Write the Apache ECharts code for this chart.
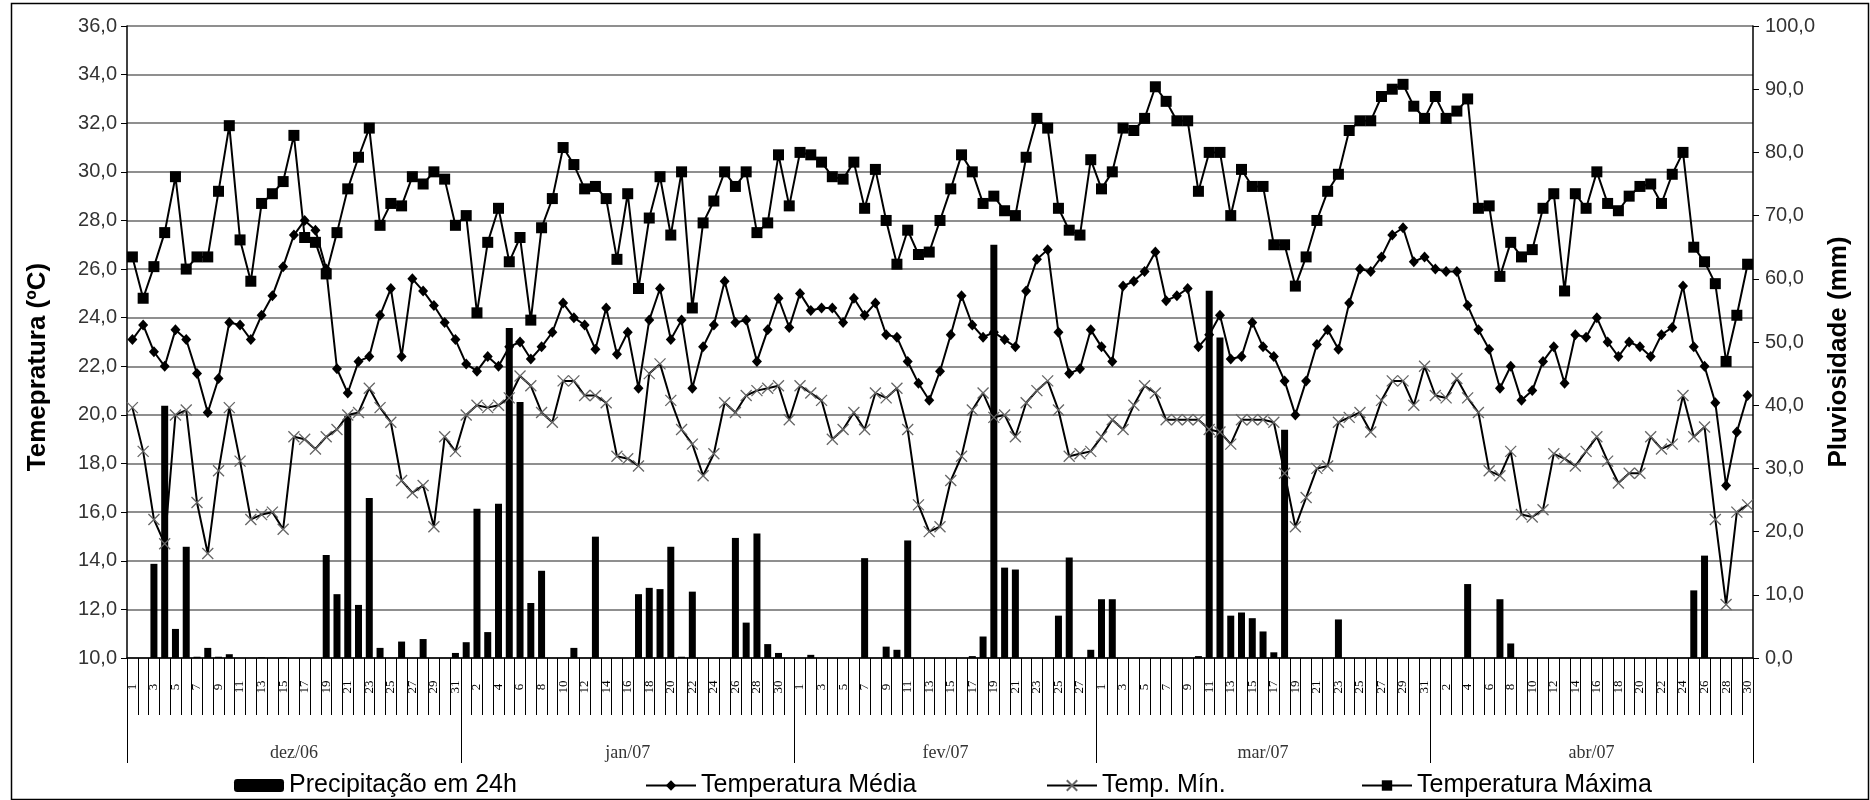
<!DOCTYPE html>
<html><head><meta charset="utf-8">
<script src="https://cdn.jsdelivr.net/npm/echarts@6/dist/echarts.min.js"></script>
<style>html,body{margin:0;padding:0;background:#fff}#c{width:1870px;height:800px}</style>
</head><body><div id="c"></div><script>
// ---- data ----
const monthNames = ['dez/06','jan/07','fev/07','mar/07','abr/07'];
const monthDays = [31, 31, 28, 31, 30];

// Precipitação em 24h (mm) – right axis
const precip = [
  0,0,14.9,39.9,4.6,17.6,0.2,1.6,0.2,0.6,0,0,0.1,0,0.1,0,0,0,16.3,10.1,38.3,8.4,25.3,1.6,0,2.6,0,3.0,0,0,0.8,
  2.5,23.6,4.1,24.4,52.2,40.5,8.7,13.8,0,0,1.6,0,19.2,0,0,0,10.1,11.1,10.9,17.6,0.2,10.5,0,0,0,19.0,5.6,19.7,2.2,0.8,0,
  0,0.5,0,0,0,0,15.8,0,1.8,1.3,18.6,0,0,0,0,0,0.3,3.4,65.4,14.3,14.0,0,0,0,6.7,15.9,0,1.3,
  9.3,9.3,0,0,0,0,0,0,0,0.3,58.1,50.7,6.7,7.2,6.3,4.2,0.9,36.1,0,0,0,0,6.1,0,0,0,0,0,0,0,0,
  0,0,0,11.7,0,0,9.3,2.3,0,0,0,0,0,0,0,0,0,0,0,0,0,0,0,0,10.7,16.2,0,0,0,0
];
// Temperatura Média (ºC)
const tAvg = [
  23.1,23.7,22.6,22.0,23.5,23.1,21.7,20.1,21.5,23.8,23.7,23.1,24.1,24.9,26.1,27.4,28.0,27.6,26.0,21.9,20.9,22.2,22.4,24.1,25.2,22.4,25.6,25.1,24.5,23.8,23.1,
  22.1,21.8,22.4,22.0,22.8,23.0,22.3,22.8,23.4,24.6,24.0,23.7,22.7,24.4,22.5,23.4,21.1,23.9,25.2,23.1,23.9,21.1,22.8,23.7,25.5,23.8,23.9,22.2,23.5,24.8,23.6,
  25.0,24.3,24.4,24.4,23.8,24.8,24.1,24.6,23.3,23.2,22.2,21.3,20.6,21.8,23.3,24.9,23.7,23.2,23.4,23.1,22.8,25.1,26.4,26.8,23.4,21.7,21.9,23.5,
  22.8,22.2,25.3,25.5,25.9,26.7,24.7,24.9,25.2,22.8,23.3,24.1,22.3,22.4,23.8,22.8,22.4,21.4,20.0,21.4,22.9,23.5,22.7,24.6,26.0,25.9,26.5,27.4,27.7,26.3,26.5,
  26.0,25.9,25.9,24.5,23.5,22.7,21.1,22.0,20.6,21.0,22.2,22.8,21.3,23.3,23.2,24.0,23.0,22.4,23.0,22.8,22.4,23.3,23.6,25.3,22.8,22.0,20.5,17.1,19.3,20.8
];
// Temp. Mín. (ºC)
const tMin = [
  20.3,18.5,15.7,14.7,20.0,20.2,16.4,14.3,17.7,20.3,18.1,15.7,15.9,16.0,15.3,19.1,19.0,18.6,19.1,19.4,20.0,20.1,21.1,20.3,19.7,17.3,16.8,17.1,15.4,19.1,18.5,
  20.0,20.4,20.3,20.4,20.7,21.6,21.2,20.1,19.7,21.4,21.4,20.8,20.8,20.5,18.3,18.2,17.9,21.7,22.1,20.6,19.4,18.8,17.5,18.4,20.5,20.1,20.8,21.0,21.1,21.2,19.8,
  21.2,20.9,20.6,19.0,19.4,20.1,19.4,20.9,20.7,21.1,19.4,16.3,15.2,15.4,17.3,18.3,20.2,20.9,19.9,20.0,19.1,20.5,21.0,21.4,20.2,18.3,18.4,18.5,
  19.1,19.8,19.4,20.4,21.2,20.9,19.8,19.8,19.8,19.8,19.4,19.3,18.8,19.8,19.8,19.8,19.7,17.6,15.4,16.6,17.8,17.9,19.7,19.9,20.1,19.3,20.6,21.4,21.4,20.4,22.0,
  20.8,20.7,21.5,20.7,20.1,17.7,17.5,18.5,15.9,15.8,16.1,18.4,18.2,17.9,18.5,19.1,18.1,17.2,17.6,17.6,19.1,18.6,18.8,20.8,19.1,19.5,15.7,12.2,16.0,16.3
];
// Temperatura Máxima (ºC)
const tMax = [
  26.5,24.8,26.1,27.5,29.8,26.0,26.5,26.5,29.2,31.9,27.2,25.5,28.7,29.1,29.6,31.5,27.3,27.1,25.8,27.5,29.3,30.6,31.8,27.8,28.7,28.6,29.8,29.5,30.0,29.7,27.8,
  28.2,24.2,27.1,28.5,26.3,27.3,23.9,27.7,28.9,31.0,30.3,29.3,29.4,28.9,26.4,29.1,25.2,28.1,29.8,27.4,30.0,24.4,27.9,28.8,30.0,29.4,30.0,27.5,27.9,30.7,28.6,
  30.8,30.7,30.4,29.8,29.7,30.4,28.5,30.1,28.0,26.2,27.6,26.6,26.7,28.0,29.3,30.7,30.0,28.7,29.0,28.4,28.2,30.6,32.2,31.8,28.5,27.6,27.4,30.5,
  29.3,30.0,31.8,31.7,32.2,33.5,32.9,32.1,32.1,29.2,30.8,30.8,28.2,30.1,29.4,29.4,27.0,27.0,25.3,26.5,28.0,29.2,29.9,31.7,32.1,32.1,33.1,33.4,33.6,32.7,32.2,
  33.1,32.2,32.5,33.0,28.5,28.6,25.7,27.1,26.5,26.8,28.5,29.1,25.1,29.1,28.5,30.0,28.7,28.4,29.0,29.4,29.5,28.7,29.9,30.8,26.9,26.3,25.4,22.2,24.1,26.2
];

// ---- derived axis labels ----
const dayLabels = [];
monthDays.forEach(n => { for (let d = 1; d <= n; d++) dayLabels.push(String(d)); });
const monthBounds = [0];
monthDays.forEach(n => monthBounds.push(monthBounds[monthBounds.length - 1] + n));
const monthCenters = monthNames.map((m, k) => (monthBounds[k] + monthBounds[k + 1]) / 2);
const fmt1 = v => v.toFixed(1).replace('.', ',');

const sans = "'Liberation Sans', Arial, sans-serif";
const serif = "'Liberation Serif', 'Times New Roman', serif";

const chart = echarts.init(document.getElementById('c'), null, {renderer: 'canvas'});
const legendBase = {
  top: 768, itemWidth: 50, itemHeight: 13, itemGap: 10,
  textStyle: {fontFamily: sans, fontSize: 25, color: '#000'}
};
chart.setOption({
  animation: false,
  backgroundColor: '#fff',
  grid: {left: 127, right: 117, top: 26, bottom: 142, containLabel: false},
  legend: [
    Object.assign({}, legendBase, {left: 229, data: ['Precipitação em 24h']}),
    Object.assign({}, legendBase, {left: 640, data: ['Temperatura Média']}),
    Object.assign({}, legendBase, {left: 1041, data: ['Temp. Mín.']}),
    Object.assign({}, legendBase, {left: 1356, data: ['Temperatura Máxima']})
  ],
  xAxis: [
    {
      type: 'category', data: dayLabels, boundaryGap: true, position: 'bottom',
      axisLine: {show: true, lineStyle: {color: '#000', width: 1.5}},
      axisTick: {show: true, interval: 0, length: 57, lineStyle: {color: '#000', width: 1}},
      axisLabel: {interval: 1, rotate: 90, margin: 29, align: 'center', verticalAlign: 'middle',
                  fontFamily: serif, fontSize: 13, color: '#000'},
      splitLine: {show: false}
    },
    {
      type: 'value', min: 0, max: monthBounds[monthBounds.length - 1], position: 'bottom',
      axisLine: {show: false},
      splitLine: {show: false},
      axisTick: {show: true, customValues: monthBounds, length: 105, lineStyle: {color: '#000', width: 1}},
      axisLabel: {customValues: monthCenters, margin: 86,
                  formatter: v => monthNames[monthCenters.indexOf(v)],
                  fontFamily: serif, fontSize: 18, color: '#333'}
    }
  ],
  yAxis: [
    {
      type: 'value', min: 10, max: 36, interval: 2, position: 'left',
      axisLine: {show: true, lineStyle: {color: '#000', width: 1.5}},
      axisTick: {show: true, length: 6, lineStyle: {color: '#000'}},
      splitLine: {show: true, lineStyle: {color: '#6a6a6a', width: 1.5}},
      axisLabel: {formatter: fmt1, fontFamily: sans, fontSize: 20, color: '#333', margin: 10},
      name: 'Temepratura (ºC)', nameLocation: 'middle', nameGap: 76, nameRotate: 90,
      nameTextStyle: {fontFamily: sans, fontWeight: 'bold', fontSize: 26, color: '#000', padding: [0, 50, 0, 0]}
    },
    {
      type: 'value', min: 0, max: 100, interval: 10, position: 'right',
      axisLine: {show: true, lineStyle: {color: '#000', width: 1.5}},
      axisTick: {show: true, length: 6, lineStyle: {color: '#000'}},
      splitLine: {show: false},
      axisLabel: {formatter: fmt1, fontFamily: sans, fontSize: 20, color: '#333', margin: 12},
      name: 'Pluviosidade (mm)', nameLocation: 'middle', nameGap: 72, nameRotate: 90,
      nameTextStyle: {fontFamily: sans, fontWeight: 'bold', fontSize: 26, color: '#000', padding: [0, 20, 0, 0]}
    }
  ],
  series: [
    {
      name: 'Precipitação em 24h', type: 'bar', xAxisIndex: 0, yAxisIndex: 1,
      data: precip, barWidth: 7, itemStyle: {color: '#000'}
    },
    {
      name: 'Temp. Mín.', type: 'line', xAxisIndex: 0, yAxisIndex: 0, data: tMin,
      symbol: 'path://M0,0L10,10M10,0L0,10', symbolSize: 11, showAllSymbol: true,
      lineStyle: {color: '#000', width: 2},
      itemStyle: {color: '#666', borderColor: '#666', borderWidth: 1.3}
    },
    {
      name: 'Temperatura Média', type: 'line', xAxisIndex: 0, yAxisIndex: 0, data: tAvg,
      symbol: 'diamond', symbolSize: [10, 11], showAllSymbol: true,
      lineStyle: {color: '#000', width: 2}, itemStyle: {color: '#000'}
    },
    {
      name: 'Temperatura Máxima', type: 'line', xAxisIndex: 0, yAxisIndex: 0, data: tMax,
      symbol: 'rect', symbolSize: 11, showAllSymbol: true,
      lineStyle: {color: '#000', width: 2}, itemStyle: {color: '#000'}
    }
  ],
  graphic: [
    {type: 'rect', left: 9, top: 1, shape: {width: 1857, height: 796},
     style: {fill: 'none', stroke: '#000', lineWidth: 1.5}, silent: true, z: -1}
  ]
});
</script></body></html>
